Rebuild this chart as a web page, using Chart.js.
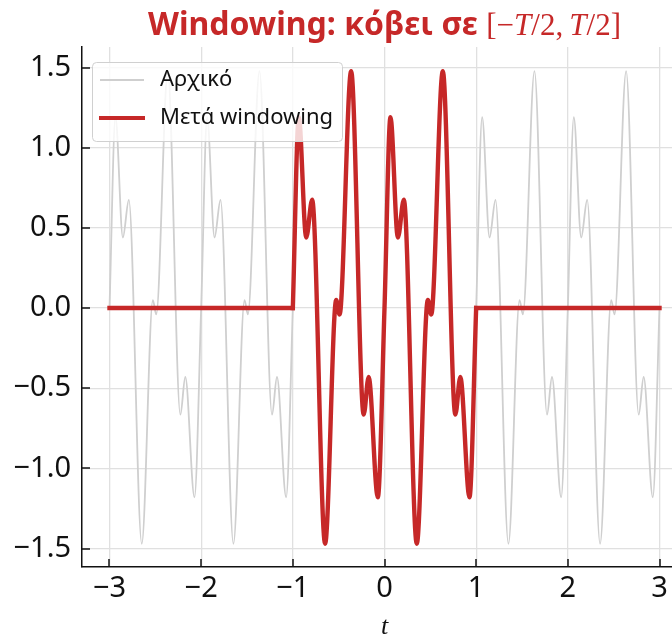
<!DOCTYPE html>
<html>
<head>
<meta charset="utf-8">
<script src="https://cdn.jsdelivr.net/npm/chart.js@4/dist/chart.umd.min.js"></script>
<style>
  html, body { margin: 0; padding: 0; background: #fff; overflow: hidden; }
  #wrap { width: 700px; height: 637px; }
</style>
</head>
<body>
<div id="wrap"><canvas id="winChart" width="700" height="637"></canvas></div>
<script>
// original signal, sampled at its turning points over t in [-3, 3]
const tOrig = [
  -3, -2.935, -2.854, -2.789, -2.648, -2.527, -2.49, -2.364, -2.227, -2.173, -2.073,
  -2, -1.935, -1.854, -1.789, -1.648, -1.527, -1.49, -1.364, -1.227, -1.173, -1.073,
  -1, -0.935, -0.854, -0.789, -0.648, -0.527, -0.49, -0.364, -0.227, -0.173, -0.073,
  0, 0.065, 0.146, 0.211, 0.352, 0.473, 0.51, 0.636, 0.773, 0.827, 0.927,
  1, 1.065, 1.146, 1.211, 1.352, 1.473, 1.51, 1.636, 1.773, 1.827, 1.927,
  2, 2.065, 2.146, 2.211, 2.352, 2.473, 2.51, 2.636, 2.773, 2.827, 2.927,
  3
];
const yOrig = [
  0, 1.19, 0.44, 0.675, -1.47, 0.05, -0.04, 1.477, -0.665, -0.43, -1.18,
  0, 1.19, 0.44, 0.675, -1.47, 0.05, -0.04, 1.477, -0.665, -0.43, -1.18,
  0, 1.19, 0.44, 0.675, -1.47, 0.05, -0.04, 1.477, -0.665, -0.43, -1.18,
  0, 1.19, 0.44, 0.675, -1.47, 0.05, -0.04, 1.477, -0.665, -0.43, -1.18,
  0, 1.19, 0.44, 0.675, -1.47, 0.05, -0.04, 1.477, -0.665, -0.43, -1.18,
  0, 1.19, 0.44, 0.675, -1.47, 0.05, -0.04, 1.477, -0.665, -0.43, -1.18,
  0
];

// windowed signal: kept on [-1, 1], zero elsewhere
const tWin = [
  -1, -0.935, -0.854, -0.789, -0.648, -0.527, -0.49, -0.364, -0.227, -0.173, -0.073,
  0, 0.065, 0.146, 0.211, 0.352, 0.473, 0.51, 0.636, 0.773, 0.827, 0.927,
  1
];
const yWin = [
  0, 1.19, 0.44, 0.675, -1.47, 0.05, -0.04, 1.477, -0.665, -0.43, -1.18,
  0, 1.19, 0.44, 0.675, -1.47, 0.05, -0.04, 1.477, -0.665, -0.43, -1.18,
  0
];
const tZeroLeft = [-3, -1];
const tZeroRight = [1, 3];
const yZero = [0, 0];

const xTicks = [-3, -2, -1, 0, 1, 2, 3];
const yTicks = [-1.5, -1.0, -0.5, 0.0, 0.5, 1.0, 1.5];

const seriesNames = ["Αρχικό", "Μετά windowing"];
const RED = "#c62828";
const GRAY = "#cfcfcf";
const FONT = "'Noto Sans', 'DejaVu Sans', sans-serif";

function pts(xs, ys) {
  return xs.map((x, i) => ({ x: x, y: ys[i] }));
}

function minusSign(s) {
  return s.replace("-", "\u2212");
}

// title, legend box, inward ticks and the t label
const decorations = {
  id: "decorations",
  afterDatasetsDraw(chart) {
    const ctx = chart.ctx;

    // legend
    const bx = 92, by = 62, bw = 250, bh = 79;
    ctx.save();
    ctx.beginPath();
    ctx.roundRect(bx + 0.5, by + 0.5, bw, bh, 4);
    ctx.fillStyle = "rgba(255,255,255,0.8)";
    ctx.fill();
    ctx.strokeStyle = "#d0d0d0";
    ctx.lineWidth = 1;
    ctx.stroke();

    ctx.lineCap = "butt";
    ctx.strokeStyle = GRAY;
    ctx.lineWidth = 2;
    ctx.beginPath(); ctx.moveTo(100, 80); ctx.lineTo(144, 80); ctx.stroke();
    ctx.strokeStyle = RED;
    ctx.lineWidth = 4;
    ctx.beginPath(); ctx.moveTo(99, 118); ctx.lineTo(145, 118); ctx.stroke();

    ctx.fillStyle = "#111";
    ctx.font = "22px " + FONT;
    ctx.textBaseline = "middle";
    ctx.textAlign = "left";
    ctx.fillText(seriesNames[0], 160, 80);
    ctx.fillText(seriesNames[1], 160, 118);
    ctx.restore();
  },
  afterDraw(chart) {
    const ctx = chart.ctx;
    const a = chart.chartArea;
    const xs = chart.scales.x, ys = chart.scales.y;

    ctx.save();
    // ticks pointing into the axes
    ctx.strokeStyle = "#111";
    ctx.lineWidth = 1.5;
    xTicks.forEach(v => {
      const px = Math.round(xs.getPixelForValue(v));
      ctx.beginPath(); ctx.moveTo(px, a.bottom); ctx.lineTo(px, a.bottom - 8); ctx.stroke();
    });
    yTicks.forEach(v => {
      const py = Math.round(ys.getPixelForValue(v));
      ctx.beginPath(); ctx.moveTo(a.left, py); ctx.lineTo(a.left + 8, py); ctx.stroke();
    });

    // title: bold text followed by the interval in math style
    const cx = (a.left + a.right) / 2;
    const base = 35;
    const boldPart = "Windowing: κόβει σε ";
    const mathParts = [
      ["[", false], ["\u2212", false], ["T", true], ["/2,\u2009", false],
      ["T", true], ["/2]", false]
    ];
    const boldFont = "bold 32px " + FONT;
    const upFont = "31px 'Liberation Serif', serif";
    const itFont = "italic 31px 'Liberation Serif', serif";
    ctx.font = boldFont;
    let w = ctx.measureText(boldPart).width;
    mathParts.forEach(p => {
      ctx.font = p[1] ? itFont : upFont;
      w += ctx.measureText(p[0]).width;
    });
    let x = cx - w / 2;
    ctx.fillStyle = RED;
    ctx.textBaseline = "alphabetic";
    ctx.textAlign = "left";
    ctx.font = boldFont;
    ctx.fillText(boldPart, x, base);
    x += ctx.measureText(boldPart).width;
    mathParts.forEach(p => {
      ctx.font = p[1] ? itFont : upFont;
      ctx.fillText(p[0], x, base);
      x += ctx.measureText(p[0]).width;
    });

    // x axis label
    ctx.fillStyle = "#111";
    ctx.font = "italic 26px 'Liberation Serif', serif";
    ctx.textAlign = "center";
    ctx.textBaseline = "middle";
    ctx.fillText("t", cx, 627);
    ctx.restore();
  }
};

new Chart(document.getElementById("winChart").getContext("2d"), {
  type: "line",
  data: {
    datasets: [
      {
        label: seriesNames[0],
        data: pts(tOrig, yOrig),
        borderColor: GRAY,
        borderWidth: 1.8,
        cubicInterpolationMode: "monotone",
        pointRadius: 0,
        order: 2
      },
      {
        label: seriesNames[1],
        data: pts(tWin, yWin),
        borderColor: RED,
        borderWidth: 4.4,
        borderCapStyle: "square",
        borderJoinStyle: "round",
        cubicInterpolationMode: "monotone",
        pointRadius: 0,
        order: 1
      },
      {
        label: seriesNames[1],
        data: pts(tZeroLeft, yZero),
        borderColor: RED,
        borderWidth: 4.4,
        borderCapStyle: "square",
        pointRadius: 0,
        order: 1
      },
      {
        label: seriesNames[1],
        data: pts(tZeroRight, yZero),
        borderColor: RED,
        borderWidth: 4.4,
        borderCapStyle: "square",
        pointRadius: 0,
        order: 1
      }
    ]
  },
  options: {
    responsive: false,
    animation: false,
    devicePixelRatio: 1,
    layout: { padding: { top: 47, right: 13, bottom: 0, left: 0 } },
    plugins: {
      legend: { display: false },
      tooltip: { enabled: false }
    },
    scales: {
      x: {
        type: "linear",
        min: -3.3,
        max: 3.3,
        afterBuildTicks: s => { s.ticks = xTicks.map(v => ({ value: v })); },
        afterFit: s => { s.height = 70; },
        grid: { color: "#e0e0e0", lineWidth: 1.3, drawTicks: false },
        border: { display: true, color: "#111", width: 1.5 },
        ticks: {
          padding: 4,
          color: "#111",
          font: { family: FONT, size: 29 },
          callback: v => minusSign(String(v))
        }
      },
      y: {
        type: "linear",
        min: -1.615,
        max: 1.628,
        afterBuildTicks: s => { s.ticks = yTicks.map(v => ({ value: v })); },
        afterFit: s => { s.width = 82; },
        grid: { color: "#e0e0e0", lineWidth: 1.3, drawTicks: false },
        border: { display: true, color: "#111", width: 1.5 },
        ticks: {
          padding: 11,
          color: "#111",
          font: { family: FONT, size: 29 },
          callback: v => minusSign(v.toFixed(1))
        }
      }
    }
  },
  plugins: [decorations]
});
</script>
</body>
</html>
